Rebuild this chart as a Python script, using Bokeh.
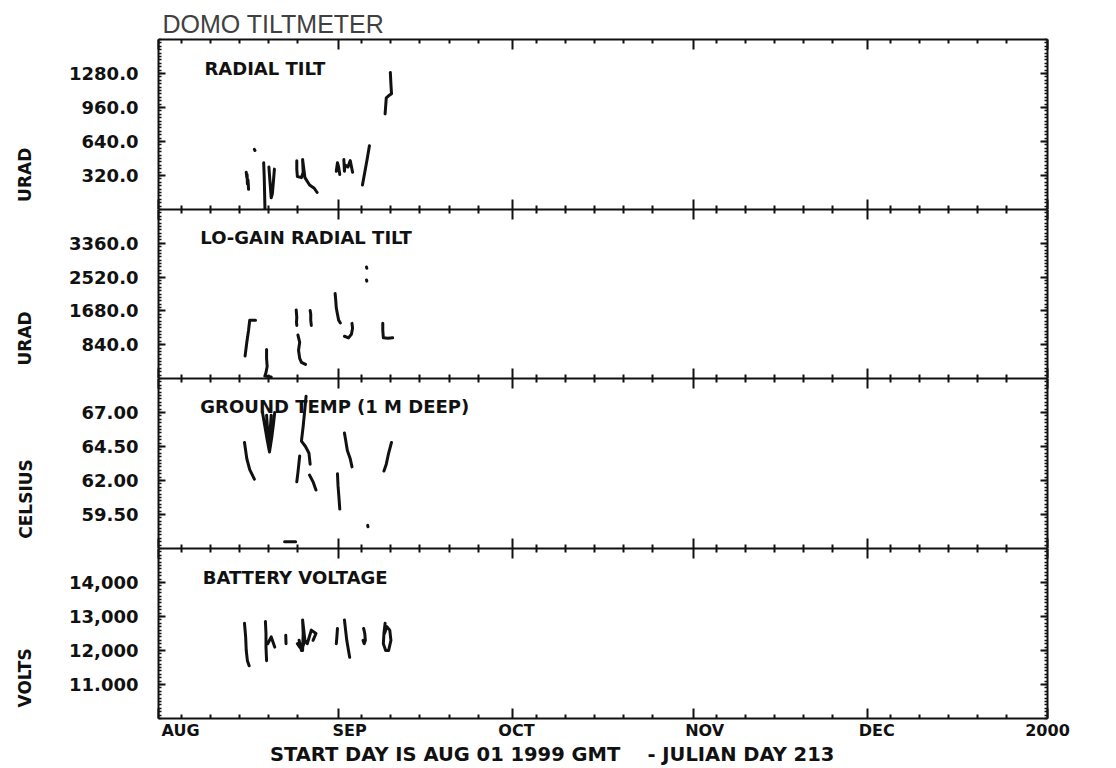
import datetime as dt
import numpy as np
from bokeh.plotting import figure
from bokeh.layouts import column
from bokeh.models import LinearAxis, FixedTicker, Range1d, Label
from bokeh.embed import file_html
from bokeh.resources import INLINE

NaN = float("nan")

# ---------------- data (days since 1999-08-01 GMT) ----------------
radial_day = [16.5, 16.6, NaN,
              15.1, 15.2, 15.25, 15.3, 15.4, 15.5, NaN,
              18.1, 18.2, 18.25, 18.3, 18.35, NaN,
              19.0, 19.2, 19.4, 19.6, 19.8, 19.95, NaN,
              23.8, 23.8, 23.9, 24.6, 24.9, 24.8, 25.2, 26.0, 26.8, 27.3, NaN,
              30.6, 30.8, 31.0, 31.2, NaN,
              31.9, 32.0, 32.1, 32.6, 33.0, 33.4, NaN,
              35.1, 35.5, 35.9, 36.3, NaN,
              39.9, 40.0, 40.1, 39.6, 39.2, 39.0]
radial_val = [566, 556, NaN,
              350, 300, 330, 240, 280, 190, NaN,
              440, 300, 180, 60, -60, NaN,
              400, 250, 110, 150, 280, 380, NaN,
              460, 380, 310, 300, 350, 470, 300, 230, 200, 160, NaN,
              360, 440, 400, 330, NaN,
              470, 360, 420, 400, 460, 350, NaN,
              230, 350, 470, 600, NaN,
              1290, 1180, 1090, 1070, 1050, 900]

logain_day = [35.8, 35.85, NaN,
              35.8, 35.85, NaN,
              16.7, 15.7, 15.5, 15.2, 14.9, NaN,
              18.6, 18.6, 18.7, 18.5, 18.3, 19.4, NaN,
              23.7, 23.8, 23.75, 23.8, NaN,
              26.1, 26.2, 26.2, 26.3, NaN,
              24.0, 24.3, 24.1, 24.3, 24.6, 25.3, NaN,
              30.4, 30.5, 30.6, 30.8, 31.0, 31.3, NaN,
              33.3, 33.4, 33.2, 32.7, 32.0, NaN,
              38.6, 38.6, 38.7, 39.5, 40.3]
logain_val = [2770, 2740, NaN,
              2450, 2420, NaN,
              1450, 1450, 1200, 900, 560, NaN,
              720, 500, 300, 150, 60, 40, NaN,
              1700, 1520, 1400, 1320, NaN,
              1690, 1600, 1450, 1320, NaN,
              1080, 900, 700, 500, 400, 350, NaN,
              2110, 1950, 1750, 1600, 1450, 1380, NaN,
              1370, 1250, 1100, 1010, 1050, NaN,
              1370, 1200, 1010, 1000, 1010]

temp_day = [14.8, 15.2, 15.7, 16.5, NaN,
            17.9, 18.3, 18.7, 19.1, 19.5, 19.8, 20.0, NaN,
            18.6, 19.0, 19.4, NaN,
            25.4, 25.2, 24.9, 24.6, 25.3, 25.9, 26.1, NaN,
            24.3, 24.0, 23.8, NaN,
            26.0, 26.6, 27.1, NaN,
            32.0, 32.2, 32.5, 33.0, 33.3, NaN,
            30.8, 30.9, 31.1, 31.2, NaN,
            36.0, 36.05, NaN,
            40.1, 39.6, 39.2, 38.8, NaN,
            21.7, 23.6]
temp_val = [64.8, 63.6, 62.8, 62.1, NaN,
            67.0, 66.0, 65.0, 64.1, 65.2, 66.2, 67.0, NaN,
            66.8, 64.3, 66.8, NaN,
            68.2, 67.3, 66.0, 64.9, 64.5, 64.0, 63.2, NaN,
            63.8, 62.6, 61.9, NaN,
            62.4, 61.9, 61.3, NaN,
            65.5, 65.0, 64.2, 63.6, 63.0, NaN,
            62.5, 61.6, 60.5, 59.9, NaN,
            58.7, 58.6, NaN,
            64.8, 64.0, 63.2, 62.7, NaN,
            57.5, 57.5]

batt_day = [14.8, 15.0, 15.1, 15.3, 15.6, NaN,
            18.4, 18.5, 18.5, 18.6, NaN,
            18.8, 19.4, 20.0, NaN,
            21.9, 21.95, NaN,
            23.9, 24.3, 24.8, 24.9, 24.8, 25.2, 25.6, 26.3, 27.1, 26.6, NaN,
            24.2, 24.6, 25.0, NaN,
            30.8, 30.7, 30.6, NaN,
            32.0, 32.2, 32.4, 32.7, 32.9, NaN,
            35.3, 35.5, 35.6, 35.4, 35.2, NaN,
            39.0, 38.8, 38.7, 39.1, 39.6, 40.0, 39.8, 39.3, 38.9]
batt_val = [12.8, 12.4, 12.0, 11.7, 11.55, NaN,
            12.85, 12.5, 12.1, 11.7, NaN,
            12.2, 12.4, 12.1, NaN,
            12.45, 12.2, NaN,
            12.2, 12.1, 12.0, 12.5, 12.9, 12.3, 12.2, 12.6, 12.5, 12.3, NaN,
            12.3, 12.0, 12.2, NaN,
            12.65, 12.4, 12.2, NaN,
            12.9, 12.6, 12.3, 12.0, 11.8, NaN,
            12.65, 12.5, 12.3, 12.2, 12.3, NaN,
            12.8, 12.5, 12.2, 12.0, 12.0, 12.3, 12.6, 12.7, 12.5]

# ---------------- tick values and labels ----------------
radial_ticks = [320, 640, 960, 1280]
radial_labels = ["320.0", "640.0", "960.0", "1280.0"]
logain_ticks = [840, 1680, 2520, 3360]
logain_labels = ["840.0", "1680.0", "2520.0", "3360.0"]
temp_ticks = [59.5, 62, 64.5, 67]
temp_labels = ["59.50", "62.00", "64.50", "67.00"]
batt_ticks = [11, 12, 13, 14]
batt_labels = ["11.000", "12,000", "13,000", "14,000"]

month_names = ["AUG", "SEP", "OCT", "NOV", "DEC", "2000"]
month_dates = [dt.date(1999, 8, 1), dt.date(1999, 9, 1), dt.date(1999, 10, 1),
               dt.date(1999, 11, 1), dt.date(1999, 12, 1), dt.date(2000, 1, 1)]
minor_days_of_month = [5, 10, 15, 20, 25]

TITLE = "DOMO TILTMETER"
X_TITLE = "START DAY IS AUG 01 1999 GMT\u00a0\u00a0\u00a0\u00a0-\u00a0JULIAN DAY 213"

# ---------------- styling ----------------
FONT = "DejaVu Sans"
INK = "#111111"
NB = "\u00a0"
START = month_dates[0]
month_days = [(d - START).days for d in month_dates]
minor_days = [(dt.date(d.year, d.month, k) - START).days
              for d in month_dates[:-1] for k in minor_days_of_month]
label_shift = [3.8, 1.9, 0.6, 2.0, 1.6, 0.0]  # visual offset of month names
label_pos = [round(m + s, 3) for m, s in zip(month_days, label_shift)]

x_range = Range1d(month_days[0], month_days[-1])


def _k(v):
    v = float(v)
    return int(v) if v.is_integer() else v


def hidden_labels(ticks):
    return dict(major_label_overrides={_k(t): "" for t in ticks},
                major_label_text_font_size="0px", major_label_text_color=None,
                major_label_standoff=0)


def x_axis():
    return LinearAxis(ticker=FixedTicker(ticks=month_days, minor_ticks=minor_days),
                      major_tick_in=10, major_tick_out=0, minor_tick_in=4, minor_tick_out=0,
                      axis_line_width=2, axis_line_color=INK,
                      major_tick_line_width=2, major_tick_line_color=INK,
                      minor_tick_line_width=2, minor_tick_line_color=INK,
                      **hidden_labels(month_days))


def make_panel(days, vals, yr, ticks, labels, ylabel, pad, yl_standoff, name, name_x, name_y,
               frame_h, top=0, bottom=0):
    step = (ticks[1] - ticks[0]) / 10.0
    minor = [float(v) for v in np.arange(yr[0], yr[1] + step / 2, step)]
    p = figure(frame_width=889, frame_height=frame_h, x_range=x_range,
               y_range=Range1d(*yr), output_backend="svg", toolbar_location=None,
               x_axis_type=None, y_axis_type=None,
               min_border_left=158, min_border_right=56,
               min_border_top=top, min_border_bottom=bottom,
               background_fill_color="white", border_fill_color="white",
               outline_line_color=None)
    p.xgrid.visible = False
    p.ygrid.visible = False

    yticker = FixedTicker(ticks=ticks, minor_ticks=minor)
    yl = LinearAxis(ticker=yticker,
                    major_label_overrides={_k(t): l for t, l in zip(ticks, labels)},
                    major_tick_in=7, major_tick_out=0, minor_tick_in=3, minor_tick_out=0,
                    axis_line_width=2, axis_line_color=INK,
                    major_tick_line_width=2, major_tick_line_color=INK,
                    minor_tick_line_width=1.5, minor_tick_line_color=INK,
                    major_label_standoff=20,
                    major_label_text_font=FONT, major_label_text_font_style="bold",
                    major_label_text_font_size="18px", major_label_text_color=INK,
                    axis_label=ylabel + NB * pad, axis_label_standoff=yl_standoff,
                    axis_label_text_font=FONT, axis_label_text_font_style="bold",
                    axis_label_text_font_size="17px", axis_label_text_color=INK)
    p.add_layout(yl, "left")

    yr_ax = LinearAxis(ticker=yticker,
                       major_tick_in=7, major_tick_out=0, minor_tick_in=3, minor_tick_out=0,
                       axis_line_width=2, axis_line_color=INK,
                       major_tick_line_width=2, major_tick_line_color=INK,
                       minor_tick_line_width=1.5, minor_tick_line_color=INK,
                       **hidden_labels(ticks))
    p.add_layout(yr_ax, "right")

    p.add_layout(x_axis(), "above")
    p.add_layout(x_axis(), "below")

    p.line(days, vals, line_color=INK, line_width=3, line_cap="round", line_join="round")

    p.add_layout(Label(x=name_x, y=name_y, text=name, text_baseline="middle",
                       text_font=FONT, text_font_style="bold", text_font_size="18px",
                       text_color=INK))
    return p


p1 = make_panel(radial_day, radial_val, (0, 1600), radial_ticks, radial_labels,
                "URAD", 17, 31, "RADIAL TILT", 7.9, 1327, 170, top=39)
p1.title.text = TITLE
p1.title.align = "left"
p1.title.offset = 4
p1.title.text_font = "Liberation Sans"
p1.title.text_font_style = "normal"
p1.title.text_font_size = "25px"
p1.title.text_color = "#404040"
if hasattr(p1.title, "standoff"):
    p1.title.standoff = 4

p2 = make_panel(logain_day, logain_val, (0, 4200), logain_ticks, logain_labels,
                "URAD", 15, 31, "LO-GAIN RADIAL TILT", 7.2, 3503, 169)
p3 = make_panel(temp_day, temp_val, (57, 69.5), temp_ticks, temp_labels,
                "CELSIUS", 12, 43, "GROUND TEMP (1 M DEEP)", 7.2, 67.44, 170)
p4 = make_panel(batt_day, batt_val, (10, 15), batt_ticks, batt_labels,
                "VOLTS", 15, 31, "BATTERY VOLTAGE", 7.6, 14.15, 170, bottom=42)

lab_ax = LinearAxis(ticker=FixedTicker(ticks=label_pos, minor_ticks=[]),
                    major_label_overrides={_k(t): n for t, n in zip(label_pos, month_names)},
                    axis_line_color=None, major_tick_line_color=None,
                    minor_tick_line_color=None, major_tick_in=0, major_tick_out=0,
                    major_label_standoff=2,
                    major_label_text_font=FONT, major_label_text_font_style="bold",
                    major_label_text_font_size="16px", major_label_text_color=INK,
                    axis_label=X_TITLE + NB * 15, axis_label_standoff=0,
                    axis_label_text_font=FONT, axis_label_text_font_style="bold",
                    axis_label_text_font_size="19.5px", axis_label_text_color=INK)
p4.add_layout(lab_ax, "below")

layout = column(p1, p2, p3, p4)
open("out.html", "w").write(file_html(layout, INLINE))
